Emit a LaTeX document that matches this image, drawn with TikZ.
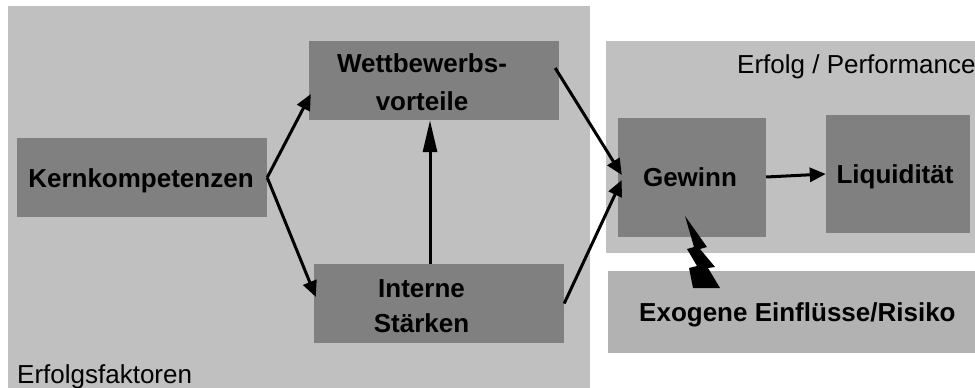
\documentclass[tikz,border=0pt]{standalone}
\usepackage{fontspec}
\setmainfont{Liberation Sans}
\usetikzlibrary{arrows.meta}
\definecolor{panelgray}{HTML}{C0C0C0}
\definecolor{boxgray}{HTML}{808080}
\definecolor{riskgray}{HTML}{B2B2B2}
\tikzset{
  panel/.style={fill=panelgray, draw=none},
  factor/.style={rectangle, fill=boxgray, draw=none, inner sep=0pt},
  riskbox/.style={rectangle, fill=riskgray, draw=none, inner sep=0pt},
  lbl/.style={inner sep=0pt, font=\fontsize{26}{30}\selectfont\bfseries, text=black},
  caption/.style={inner sep=0pt, font=\fontsize{26}{30}\selectfont, text=black},
  flow/.style={line width=3pt, -{Triangle[length=16pt,width=14pt]}},
  longflow/.style={line width=3pt, -{Triangle[length=32pt,width=14pt]}},
}
\begin{document}
\begin{tikzpicture}[x=1pt,y=-1pt]
  \useasboundingbox (0,0) rectangle (975,388);

  % background panels
  \fill[panel] (8,6) rectangle (590,388);
  \fill[panel] (606,41) rectangle (975,253);

  % boxes
  \node[factor, minimum width=250pt, minimum height=79.5pt] (kk) at (142,177.5) {};
  \node[factor, minimum width=250pt, minimum height=79pt] (wv) at (434,80.5) {};
  \node[factor, minimum width=250pt, minimum height=79pt] (is) at (439,303.5) {};
  \node[factor, minimum width=148pt, minimum height=119pt] (gw) at (692,177.5) {};
  \node[factor, minimum width=144pt, minimum height=118pt] (lq) at (898,174) {};
  \node[riskbox, minimum width=367pt, minimum height=82pt] (ex) at (791.5,312) {};

  % box labels
  \node[lbl, anchor=base] (kkt) at (141,187) {Kernkompetenzen};
  \node[lbl, anchor=base] (wvt1) at (422,72) {Wettbewerbs-};
  \node[lbl, anchor=base] (wvt2) at (422,110) {vorteile};
  \node[lbl, anchor=base] (ist1) at (421.5,297) {Interne};
  \node[lbl, anchor=base] (ist2) at (421.5,332) {Stärken};
  \node[lbl, anchor=base] (gwt) at (690,186) {Gewinn};
  \node[lbl, anchor=base] (lqt) at (895,183) {Liquidität};
  \node[lbl, anchor=base west] (ext) at (639,321) {Exogene Einflüsse/Risiko};

  % panel captions
  \node[caption, anchor=base west] (cap1) at (17,383) {Erfolgsfaktoren};
  \node[caption, anchor=base west] (cap2) at (737,73) {Erfolg / Performance};

  % connectors
  \draw[flow] (kk.east) -- ([xshift=2pt,yshift=-13.5pt]wv.west);
  \draw[flow] (kk.east) -- ([xshift=2pt,yshift=6.5pt]is.west);
  \draw[longflow] ([xshift=-9pt]is.north) -- ([xshift=-4pt]wv.south);
  \draw[flow] ([xshift=-4pt,yshift=12.5pt]wv.east) -- ([xshift=4pt,yshift=2.5pt]gw.west);
  \draw[flow] (is.east) -- ([xshift=4pt,yshift=-2.5pt]gw.west);
  \draw[flow] ([yshift=0.5pt]gw.east) -- (lq.west);

  % lightning bolt between the risk box and the profit box
  \fill[black] (685,216) -- (707,247) -- (700,249) -- (715,267) -- (708,268)
    -- (720,288) -- (693,288) -- (689,268) -- (697,266) -- (687,249)
    -- (694,247) -- cycle;
\end{tikzpicture}
\end{document}
